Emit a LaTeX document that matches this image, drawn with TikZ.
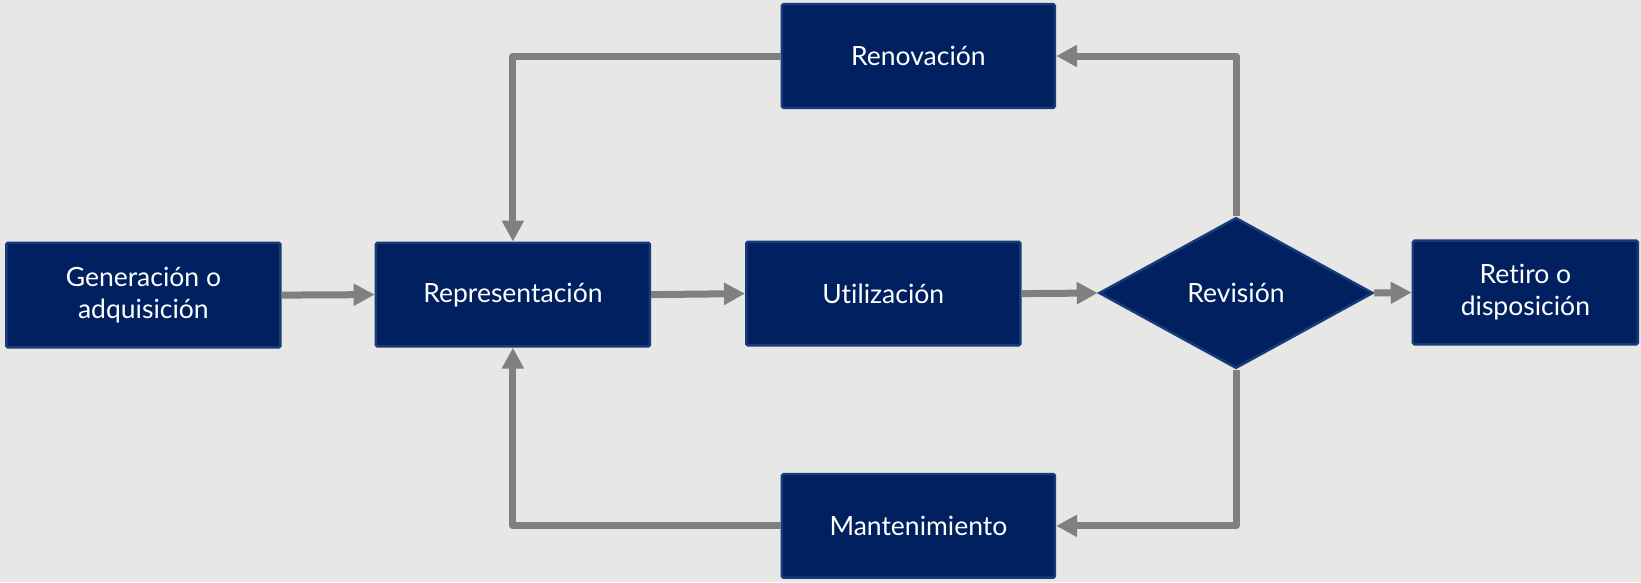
\documentclass[tikz,border=0pt]{standalone}
\usepackage{fontspec}
\setmainfont{Lato}[Ligatures={NoCommon}]
\usetikzlibrary{shapes.geometric,arrows.meta}
\definecolor{bg}{HTML}{E7E7E5}
\definecolor{navy}{HTML}{002060}
\definecolor{navyedge}{HTML}{163A7A}
\definecolor{conn}{HTML}{808080}
\tikzset{
  box/.style={rectangle, fill=navy, draw=navyedge, line width=2.5pt, rounded corners=1.5pt,
    text=white, align=center, inner sep=0pt,
    font=\fontsize{26.5}{32}\selectfont},
  decision/.style={diamond, fill=navy, draw=navyedge, line width=2.5pt,
    text=white, align=center, inner sep=0pt, minimum width=274pt, minimum height=150.7pt,
    font=\fontsize{26.5}{32}\selectfont},
  conn/.style={draw=conn, line width=7pt, -{Triangle[length=21pt,width=21pt]}, line join=round}
}
\begin{document}
\begin{tikzpicture}[x=1pt,y=-1pt]
\fill[bg] (0,0) rectangle (1641,582);
\useasboundingbox (0,0) rectangle (1641,582);
\node[box, minimum width=274pt, minimum height=104.6pt] (gen) at (143.4,295.1) {Generación o\\adquisición};
\node[box, minimum width=274pt, minimum height=103.6pt] (rep) at (512.9,294.6) {Representación};
\node[box, minimum width=274pt, minimum height=103.6pt] (uti) at (883.3,293.6) {Utilización};
\node[decision] (rev) at (1236,293) {Revisión};
\node[box, minimum width=225pt, minimum height=103.6pt] (ret) at (1525.4,292.5) {Retiro o\\disposición};
\node[box, minimum width=273pt, minimum height=103.6pt] (ren) at (918.4,56) {Renovación};
\node[box, minimum width=273pt, minimum height=103.6pt] (man) at (918.4,525.9) {Mantenimiento};
\coordinate (tl) at (512.9,56);
\coordinate (tr) at (1236,56);
\coordinate (bl) at (512.9,525.9);
\coordinate (br) at (1236,525.9);
\draw[conn] (gen.east) -- (rep.west);
\draw[conn] (rep.east) -- (uti.west);
\draw[conn] (uti.east) -- (rev.west);
\draw[conn] (rev.east) -- (ret.west);
\draw[conn] (ren.west) -- (tl) -- (rep.north);
\draw[conn] (rev.north) -- (tr) -- (ren.east);
\draw[conn] (rev.south) -- (br) -- (man.east);
\draw[conn] (man.west) -- (bl) -- (rep.south);
\end{tikzpicture}
\end{document}
